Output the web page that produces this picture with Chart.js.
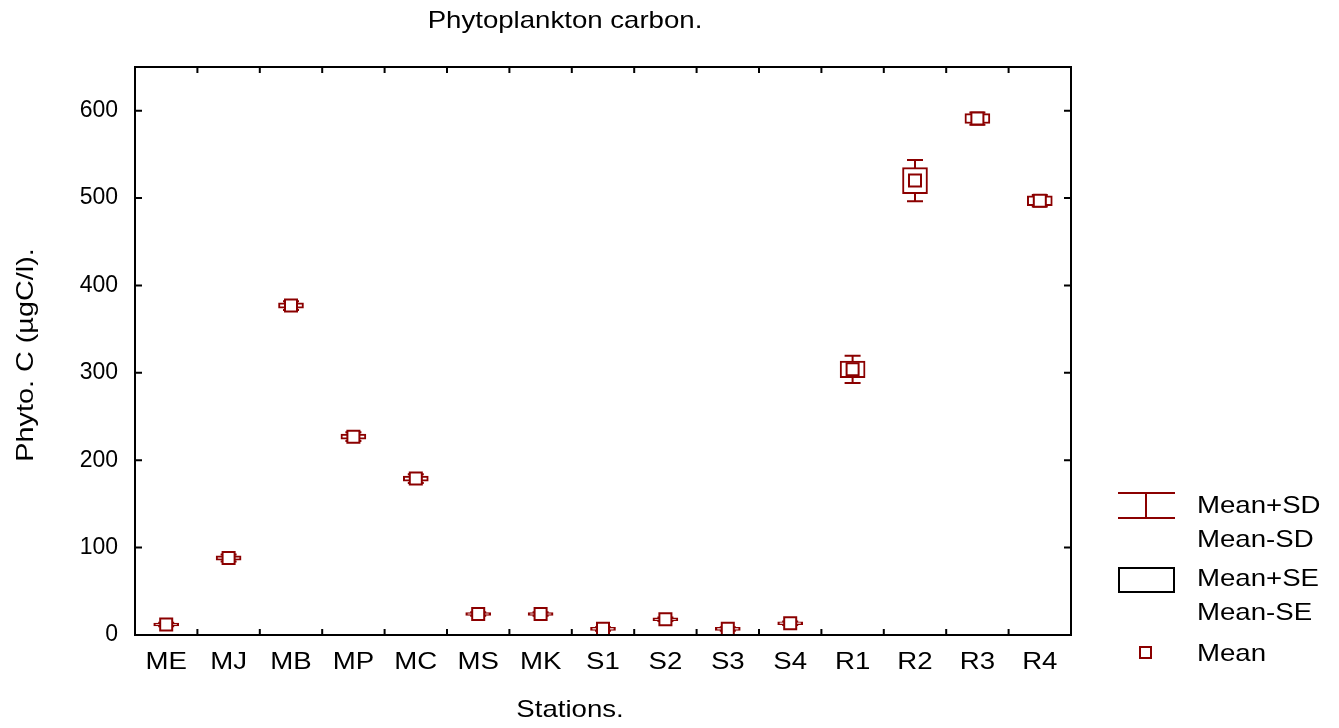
<!DOCTYPE html>
<html>
<head>
<meta charset="utf-8">
<title>Phytoplankton carbon</title>
<script src="https://cdn.jsdelivr.net/npm/chart.js@4"></script>
<style>
  body { margin: 0; background: #fff; }
  canvas { display: block; }
</style>
</head>
<body>
<canvas id="grafico" width="1339" height="728"></canvas>
<script>
// estações e valores (µgC/l)
var estacoes = ['ME', 'MJ', 'MB', 'MP', 'MC', 'MS', 'MK', 'S1', 'S2', 'S3', 'S4', 'R1', 'R2', 'R3', 'R4'];
var media = [12, 88, 377, 227, 179, 24, 24, 7, 18, 7, 13.5, 304, 520, 591, 497];
var erroPadrao = [1.7, 2.5, 3, 3, 3, 1.7, 1.7, 1.7, 1.7, 1.7, 1.7, 9.4, 14.9, 5.7, 5.7];
var desvioPadrao = [2, 4, 5, 5, 5, 2, 2, 2, 2, 2, 2, 15.5, 23.5, 7, 6.5];
var ticksY = [0, 100, 200, 300, 400, 500, 600];

var vermelho = '#8b0000';
var fonte = "'Liberation Sans', Arial, sans-serif";
var largura = 1.15; // texto um pouco mais largo

// caixa de media +- erro padrao (barra flutuante)
var caixasSE = media.map(function (m, i) { return [m - erroPadrao[i], m + erroPadrao[i]]; });

// escreve texto esticado na horizontal
function texto(ctx, t, x, y, alinhar, esc) {
  ctx.save();
  ctx.translate(x, y);
  ctx.scale(esc || largura, 1);
  ctx.textAlign = alinhar;
  ctx.fillText(t, 0, 0);
  ctx.restore();
}

// desenha os bigodes (media +- desvio) antes das caixas
var bigodes = {
  id: 'bigodes',
  beforeDatasetsDraw: function (chart) {
    var ctx = chart.ctx, x = chart.scales.x, y = chart.scales.y;
    ctx.save();
    ctx.strokeStyle = vermelho;
    ctx.lineWidth = 2;
    for (var i = 0; i < media.length; i++) {
      var px = x.getPixelForValue(i);
      var topo = y.getPixelForValue(media[i] + desvioPadrao[i]);
      var base = y.getPixelForValue(media[i] - desvioPadrao[i]);
      ctx.beginPath();
      ctx.moveTo(px, topo); ctx.lineTo(px, base);
      ctx.moveTo(px - 8, topo); ctx.lineTo(px + 8, topo);
      ctx.moveTo(px - 8, base); ctx.lineTo(px + 8, base);
      ctx.stroke();
    }
    ctx.restore();
  }
};

// moldura, ticks para dentro, rotulos, titulos e legenda
var moldura = {
  id: 'moldura',
  afterDraw: function (chart) {
    var ctx = chart.ctx, a = chart.chartArea, x = chart.scales.x, y = chart.scales.y;
    ctx.save();
    ctx.strokeStyle = '#000';
    ctx.lineWidth = 2;
    ctx.strokeRect(a.left, a.top, a.right - a.left, a.bottom - a.top);
    ctx.beginPath();
    ticksY.forEach(function (v) {
      var py = y.getPixelForValue(v);
      ctx.moveTo(a.left, py); ctx.lineTo(a.left + 7, py);
      ctx.moveTo(a.right, py); ctx.lineTo(a.right - 7, py);
    });
    var passo = (a.right - a.left) / estacoes.length;
    for (var i = 1; i < estacoes.length; i++) {
      var px = x.getPixelForValue(i) - passo / 2;
      ctx.moveTo(px, a.bottom); ctx.lineTo(px, a.bottom - 6);
      ctx.moveTo(px, a.top); ctx.lineTo(px, a.top + 6);
    }
    ctx.stroke();

    ctx.fillStyle = '#000';
    ctx.font = '24px ' + fonte;
    ctx.textBaseline = 'middle';

    // rotulos das estacoes
    for (var j = 0; j < estacoes.length; j++) {
      texto(ctx, estacoes[j], x.getPixelForValue(j), 662, 'center');
    }

    texto(ctx, 'Phytoplankton carbon.', 565, 21, 'center');
    texto(ctx, 'Stations.', 570, 710, 'center');
    ctx.save();
    ctx.translate(26, 355);
    ctx.rotate(-Math.PI / 2);
    texto(ctx, 'Phyto. C (\u00b5gC/l).', 0, 0, 'center', 1.2);
    ctx.restore();

    // legenda
    texto(ctx, 'Mean+SD', 1197, 506, 'left');
    texto(ctx, 'Mean-SD', 1197, 540, 'left');
    texto(ctx, 'Mean+SE', 1197, 579, 'left');
    texto(ctx, 'Mean-SE', 1197, 613, 'left');
    texto(ctx, 'Mean', 1197, 654, 'left');

    ctx.strokeStyle = vermelho;
    ctx.beginPath();
    ctx.moveTo(1118, 493); ctx.lineTo(1175, 493);
    ctx.moveTo(1118, 518); ctx.lineTo(1175, 518);
    ctx.moveTo(1146, 493); ctx.lineTo(1146, 518);
    ctx.stroke();
    ctx.strokeRect(1140, 647, 11, 11);
    ctx.strokeStyle = '#000';
    ctx.strokeRect(1119, 568, 55, 24);
    ctx.restore();
  }
};

var ctx = document.getElementById('grafico').getContext('2d');
var chart = new Chart(ctx, {
  data: {
    labels: estacoes,
    datasets: [
      {
        type: 'line',
        label: 'Mean',
        data: media,
        order: 0,
        showLine: false,
        pointStyle: 'rect',
        pointRadius: 8.5,
        pointHoverRadius: 8.5,
        pointBorderWidth: 2,
        pointBorderColor: vermelho,
        pointBackgroundColor: '#fff'
      },
      {
        type: 'bar',
        label: 'Mean+SE / Mean-SE',
        data: caixasSE,
        order: 1,
        backgroundColor: '#fff',
        borderColor: vermelho,
        borderWidth: 2,
        borderSkipped: false,
        barThickness: 25
      }
    ]
  },
  options: {
    responsive: false,
    animation: false,
    layout: { padding: { top: 67, right: 268, left: 0, bottom: 0 } },
    plugins: {
      legend: { display: false },
      title: { display: false },
      tooltip: { enabled: false }
    },
    scales: {
      x: {
        type: 'category',
        offset: true,
        grid: { display: false, drawTicks: false },
        border: { display: false },
        ticks: { display: false },
        afterFit: function (s) { s.height = 93; }
      },
      y: {
        type: 'linear',
        min: 0,
        max: 650,
        grid: { display: false, drawTicks: false },
        border: { display: false },
        ticks: { color: '#000', font: { family: fonte, size: 23 }, padding: 17, stepSize: 100 },
        afterBuildTicks: function (s) {
          s.ticks = ticksY.map(function (v) { return { value: v }; });
        },
        afterFit: function (s) { s.width = 135; }
      }
    }
  },
  plugins: [bigodes, moldura]
});
</script>
</body>
</html>
